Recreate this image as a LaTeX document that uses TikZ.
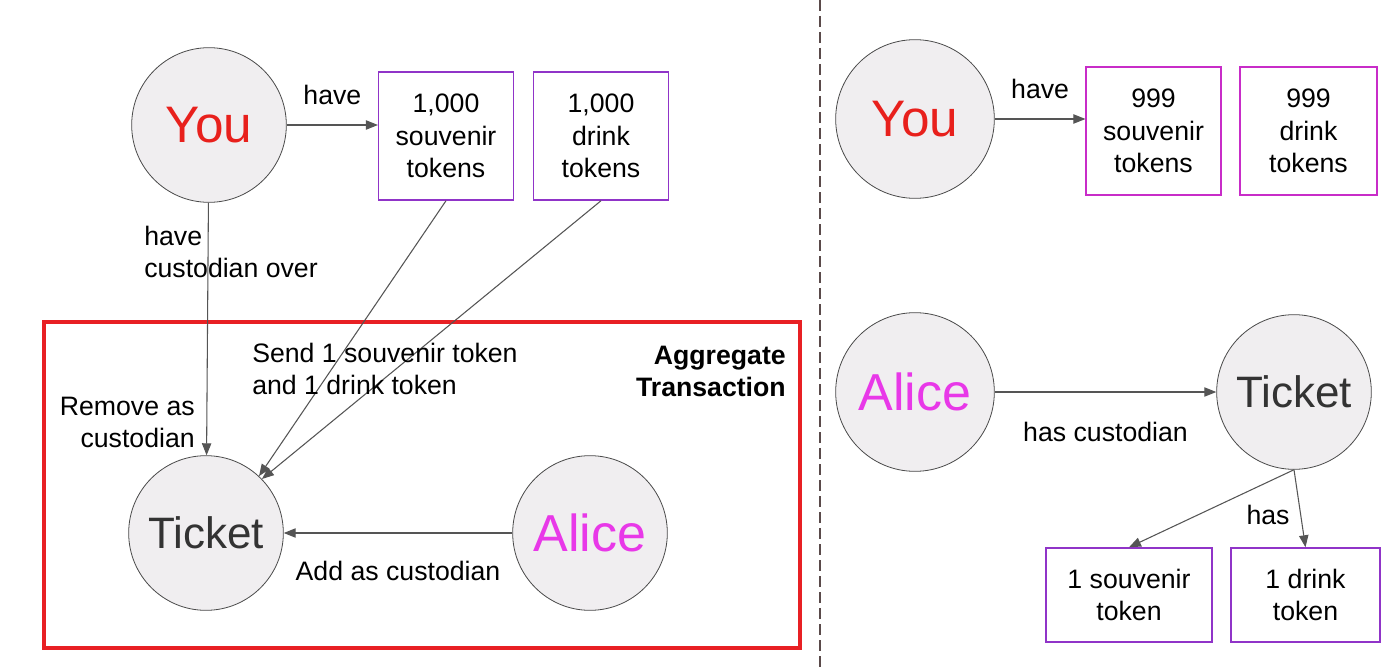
\documentclass[tikz,border=0pt]{standalone}
\usepackage{fontspec}
\setmainfont{Liberation Sans}
\usetikzlibrary{arrows.meta}

\definecolor{circfill}{HTML}{F0EEF0}
\definecolor{circline}{HTML}{4A4A4A}
\definecolor{youred}{HTML}{E8201C}
\definecolor{alicepink}{HTML}{E838E8}
\definecolor{tickgray}{HTML}{333333}
\definecolor{boxviolet}{HTML}{9034C8}
\definecolor{boxmagenta}{HTML}{C82CC8}
\definecolor{arrowgray}{HTML}{555555}
\definecolor{aggred}{HTML}{E82024}
\definecolor{sepgray}{HTML}{5A4A4A}

\newcommand\lblfont{\fontsize{20}{24}\selectfont}
\newcommand\bigfont{\fontsize{38.5}{40}\selectfont}

\begin{document}
\begin{tikzpicture}[x=0.75pt,y=-0.75pt]
    \useasboundingbox (0,0) rectangle (1400,667);

    % separator and aggregate box
    \coordinate (septop) at (820,0);
    \coordinate (sepbot) at (820,667);
    \draw [sepgray,line width=1pt,dash pattern=on 8pt off 4pt] (septop) -- (sepbot);
    \node [draw=aggred,line width=3pt,minimum width=567pt,minimum height=244.5pt] (agg) at (422,485) {};
    \node [font=\lblfont\bfseries,align=right,anchor=east,inner sep=0pt] (aggl) at (786,371) {Aggregate\\Transaction};

    \begin{scope}[every node/.style={circle,draw=circline,fill=circfill,line width=0.6pt,minimum size=116pt,inner sep=0pt}]
      \node [text=youred,font=\bigfont] (y1) at (209,125) {You};
      \node [text=tickgray,font=\fontsize{33}{36}\selectfont] (t1) at (206,533) {Ticket};
      \node [text=alicepink,font=\fontsize{39}{42}\selectfont] (a1) at (590,533) {Alice};
      \node [text=youred,font=\bigfont,minimum size=119pt] (y2) at (915,119) {You};
      \node [text=alicepink,font=\fontsize{39}{42}\selectfont,minimum size=119pt] (a2) at (915,392) {Alice};
      \node [text=tickgray,font=\fontsize{33}{36}\selectfont,minimum size=116pt] (t2) at (1294,392) {Ticket};
    \end{scope}

    \begin{scope}[every node/.style={draw=boxviolet,line width=1.1pt,align=center,inner sep=0pt,
                  font=\fontsize{20}{24.5}\selectfont,minimum width=101pt,minimum height=96pt}]
      \node (s1) at (446,136) {1,000\\souvenir\\tokens};
      \node (d1) at (601,136) {1,000\\drink\\tokens};
      \node [draw=boxmagenta] (s2) at (1153.5,131) {999\\souvenir\\tokens};
      \node [draw=boxmagenta,minimum width=103pt] (d2) at (1308.5,131) {999\\drink\\tokens};
      \node [minimum width=124.5pt,minimum height=70.5pt] (s3) at (1129,595) {1 souvenir\\token};
      \node [minimum width=112pt,minimum height=70.5pt] (d3) at (1305.5,595) {1 drink\\token};
    \end{scope}

    \begin{scope}[>={Triangle[length=9pt,width=7pt]},
        every node/.style={font=\lblfont,inner sep=0pt},
        every edge/.style={draw=arrowgray,line width=0.8pt}]
      \path [->] (y1) edge node [above=15pt] {have} (s1.west |- y1);
      \path [->] (y1) edge (t1);
      \path [->] (s1.south) edge (t1.47);
      \path [->] (d1.south) edge (t1.44);
      \path [->] (a1) edge node [below=21pt] {Add as custodian} (t1);
      \path [->] (y2) edge node [above=15pt] {have} (s2.west |- y2);
      \path [->] (a2) edge node [below=22pt] {has custodian} (t2);
      \path [->] (t2.south) edge (s3.north);
      \path [->] (t2.south) edge (d3.north);
    \end{scope}

    \begin{scope}[every node/.style={font=\lblfont,inner sep=0pt}]
      \node [anchor=west,align=left] (hco) at (144,252) {have\\custodian over};
      \node [anchor=west,align=left] (send) at (252,369) {Send 1 souvenir token\\and 1 drink token};
      \node [anchor=east,align=right] (rem) at (195,422) {Remove as\\custodian};
      \node (has) at (1268,515) {has};
    \end{scope}
  \end{tikzpicture}
\end{document}
